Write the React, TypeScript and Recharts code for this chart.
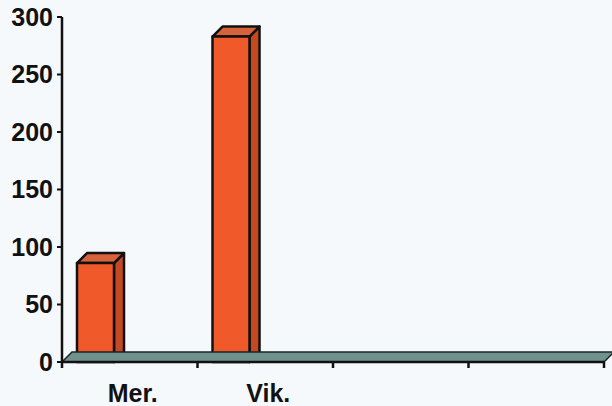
import React from 'react';
import { BarChart, Bar, XAxis, YAxis, ReferenceLine } from 'recharts';

const categories = ['Mer.', 'Vik.', '', ''];
const seriesA = [86, 283, null, null];
const seriesB = [null, null, null, null];
const seriesC = [null, null, null, null];
const yTicks = [0, 50, 100, 150, 200, 250, 300];
const boundaryTicks = [0, 1, 2, 3, 4];

const data = categories.map((c, i) => ({ cat: c, idx: i + 0.5, a: seriesA[i], b: seriesB[i], c: seriesC[i] }));

const DEPTH = 10;

const Box3D = (props: any) => {
  const { x, y, width, height } = props;
  if (!height || height <= 0) return null;
  const d = DEPTH;
  const w = width;
  const h = height;
  return (
    <g stroke="#111" strokeWidth={2.5} strokeLinejoin="round">
      <polygon
        points={`${x + w},${y} ${x + w + d},${y - d} ${x + w + d},${y + h - d} ${x + w},${y + h}`}
        fill="#c44822"
      />
      <polygon points={`${x},${y} ${x + d},${y - d} ${x + w + d},${y - d} ${x + w},${y}`} fill="#d8623a" />
      <rect x={x} y={y} width={w} height={h} fill="#f05a2a" />
    </g>
  );
};

const Floor = (props: any) => {
  const { x1, y1, x2 } = props;
  const d = DEPTH;
  return (
    <g>
      <polygon
        points={`${x1},${y1} ${x2},${y1} ${x2 + d},${y1 - d} ${x1 + d},${y1 - d}`}
        fill="#6f928e"
        stroke="#1a2626"
        strokeWidth={1.5}
      />
      <line x1={x1} y1={y1} x2={x2} y2={y1} stroke="#111" strokeWidth={2.5} />
    </g>
  );
};

const EmptyTick = () => <g />;

const labelStyle = { fontFamily: 'Liberation Sans, Arial, sans-serif', fontWeight: 700, fontSize: 25, fill: '#111' };

export default function App() {
  return (
    <div style={{ position: 'absolute', left: 0, top: 0, width: 612, height: 406, background: '#f5f9fc' }}>
      <BarChart
        width={612}
        height={406}
        data={data}
        margin={{ top: 17, right: 8, bottom: 0, left: 0 }}
        barCategoryGap={15}
        barGap={-2}
      >
        <ReferenceLine y={0} xAxisId="cat" shape={<Floor />} ifOverflow="visible" />
        <XAxis
          xAxisId="bound"
          type="number"
          dataKey="idx"
          domain={[0, 4]}
          ticks={boundaryTicks}
          tick={<EmptyTick />}
          interval={0}
          axisLine={false}
          tickLine={{ stroke: '#111', strokeWidth: 2.5 }}
          tickSize={6}
          height={1}
        />
        <XAxis
          dataKey="cat"
          xAxisId="cat"
          axisLine={false}
          tickLine={false}
          interval={0}
          tick={{ ...labelStyle, dx: 3, dy: 13 } as any}
          height={43}
        />
        <YAxis
          domain={[0, 300]}
          ticks={yTicks}
          width={62}
          axisLine={{ stroke: '#111', strokeWidth: 2.5 }}
          tickLine={{ stroke: '#111', strokeWidth: 2 }}
          tickSize={5}
          tickMargin={4}
          tick={labelStyle as any}
          interval={0}
        />
        <Bar dataKey="a" xAxisId="cat" shape={<Box3D />} isAnimationActive={false} />
        <Bar dataKey="b" xAxisId="cat" shape={<Box3D />} isAnimationActive={false} />
        <Bar dataKey="c" xAxisId="cat" shape={<Box3D />} isAnimationActive={false} />
      </BarChart>
    </div>
  );
}
